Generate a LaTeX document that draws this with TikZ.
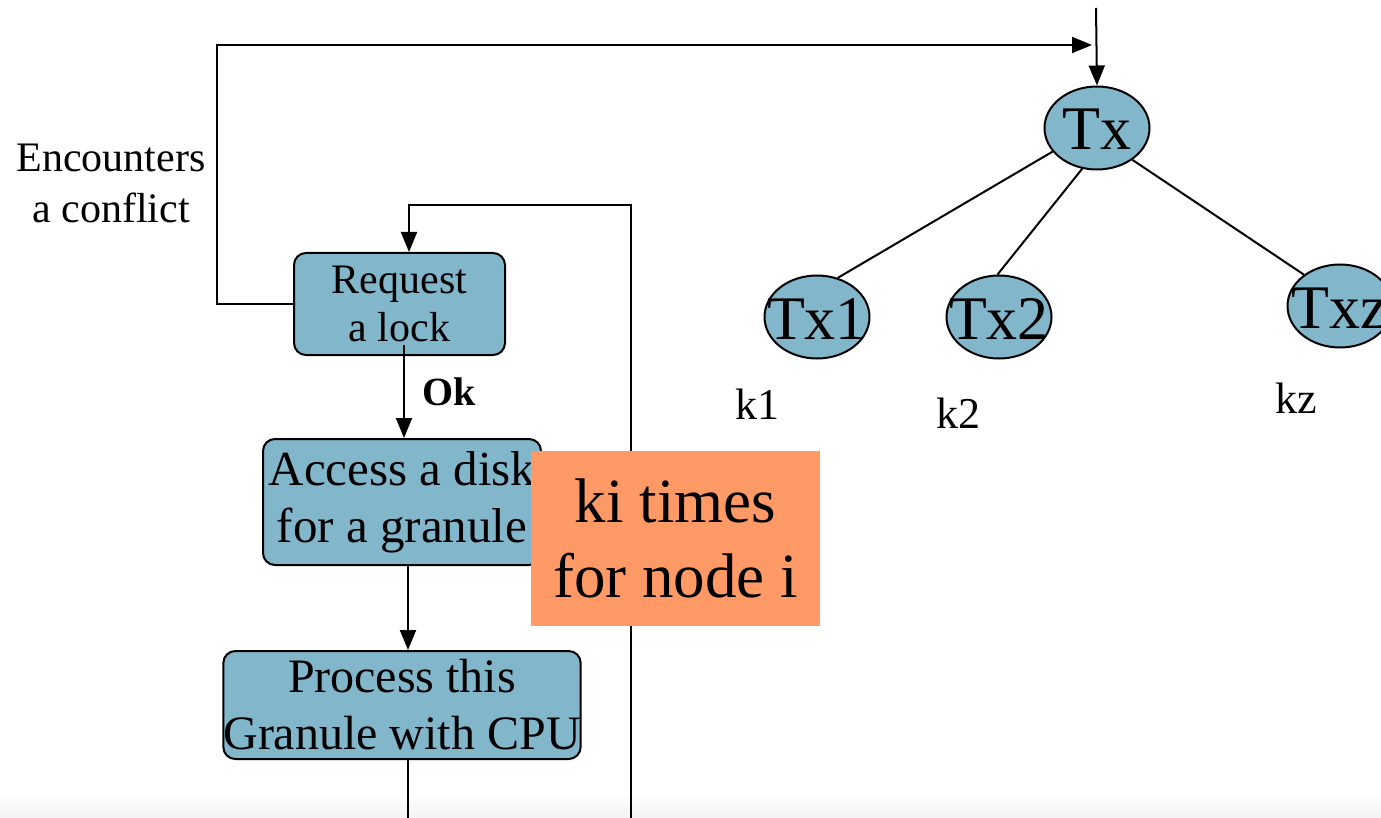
\documentclass[tikz,border=0pt]{standalone}
\usepackage{fontspec}
\setmainfont{Liberation Serif}
\usetikzlibrary{arrows.meta,shapes.geometric}

\definecolor{boxblue}{RGB}{130,182,203}
\definecolor{noteorange}{RGB}{255,153,102}

\begin{document}
\begin{tikzpicture}[x=1pt, y=-1pt, line width=2pt,
  arr/.style={-{Triangle[length=20pt,width=16pt]}},
  stepbox/.style={draw, fill=boxblue, rounded corners=12pt, inner sep=0pt, align=center},
  txnode/.style={ellipse, draw, fill=boxblue, inner sep=0pt, minimum width=105pt,
    minimum height=83pt, text height=44pt, text depth=0pt,
    font=\fontsize{62}{62}\selectfont}]

  \useasboundingbox (0,0) rectangle (1381,818);
  \shade[top color=white, bottom color=gray!9] (0,792) rectangle (1381,818);

  % -- Flow boxes --
  \node[stepbox, minimum width=211pt, minimum height=102pt,
    font=\fontsize{42}{48}\selectfont] (req) at (399.5,304) {Request\\a lock};
  \node[stepbox, minimum width=278pt, minimum height=126pt,
    font=\fontsize{49}{57}\selectfont] (acc) at (402,502) {Access a disk\\for a granule};
  \node[stepbox, minimum width=356pt, minimum height=108pt,
    font=\fontsize{48}{57}\selectfont] (proc) at (402,705) {Process this\\Granule with CPU};

  % -- Loop back for the next granule --
  \coordinate (loopbot) at (631,818);
  \coordinate (loopturn) at (409,205);
  \draw[arr] (loopbot) |- (loopturn) -- ([xshift=9.5pt]req.north);

  % -- Note box --
  \node[fill=noteorange, minimum width=289pt, minimum height=175pt, inner sep=0pt,
    align=center, font=\fontsize{63}{75}\selectfont] (note) at (675.5,538.5)
    {ki times\\for node i};

  % -- Flow arrows --
  \draw[arr] ([xshift=4.5pt, yshift=-41pt]req.center) -- ([xshift=2pt]acc.north)
    node[midway, right=14pt, font=\fontsize{40}{40}\selectfont\bfseries] (ok) {Ok};
  \draw[arr] ([xshift=6pt]acc.south) -- ([xshift=6pt]proc.north);
  \coordinate (procout) at (408,818);
  \draw ([xshift=6pt]proc.south) -- (procout);

  % -- Transaction tree --
  \node[txnode] (Tx) at (1097,128) {\makebox[0pt]{Tx}};
  \node[txnode] (Tx1) at (817,317) {\makebox[0pt]{Tx1}};
  \node[txnode] (Tx2) at (999,317) {\makebox[0pt]{Tx2}};
  \node[txnode] (Txz) at (1340,306) {\makebox[0pt]{Txz}};
  \draw (Tx.208) -- (Tx1.62);
  \draw (Tx.250) -- (Tx2.92);
  \draw (Tx.318) -- (Txz.139);

  \node[font=\fontsize{44}{44}\selectfont] (k1) at (757,404) {k1};
  \node[font=\fontsize{44}{44}\selectfont] (k2) at (958,413) {k2};
  \node[font=\fontsize{44}{44}\selectfont] (kz) at (1296,398) {kz};

  % -- Conflict path --
  \node[align=center, font=\fontsize{42}{51}\selectfont] (conflict) at (111,183)
    {Encounters\\a conflict};
  \coordinate (cflturn) at (217,45);
  \coordinate (cflend) at (1092,45);
  \draw[arr] (req.west) -| (cflturn) -- (cflend);
  \coordinate (txtop) at (1096,8);
  \draw[arr] (txtop) -- (Tx.north);

\end{tikzpicture}
\end{document}
